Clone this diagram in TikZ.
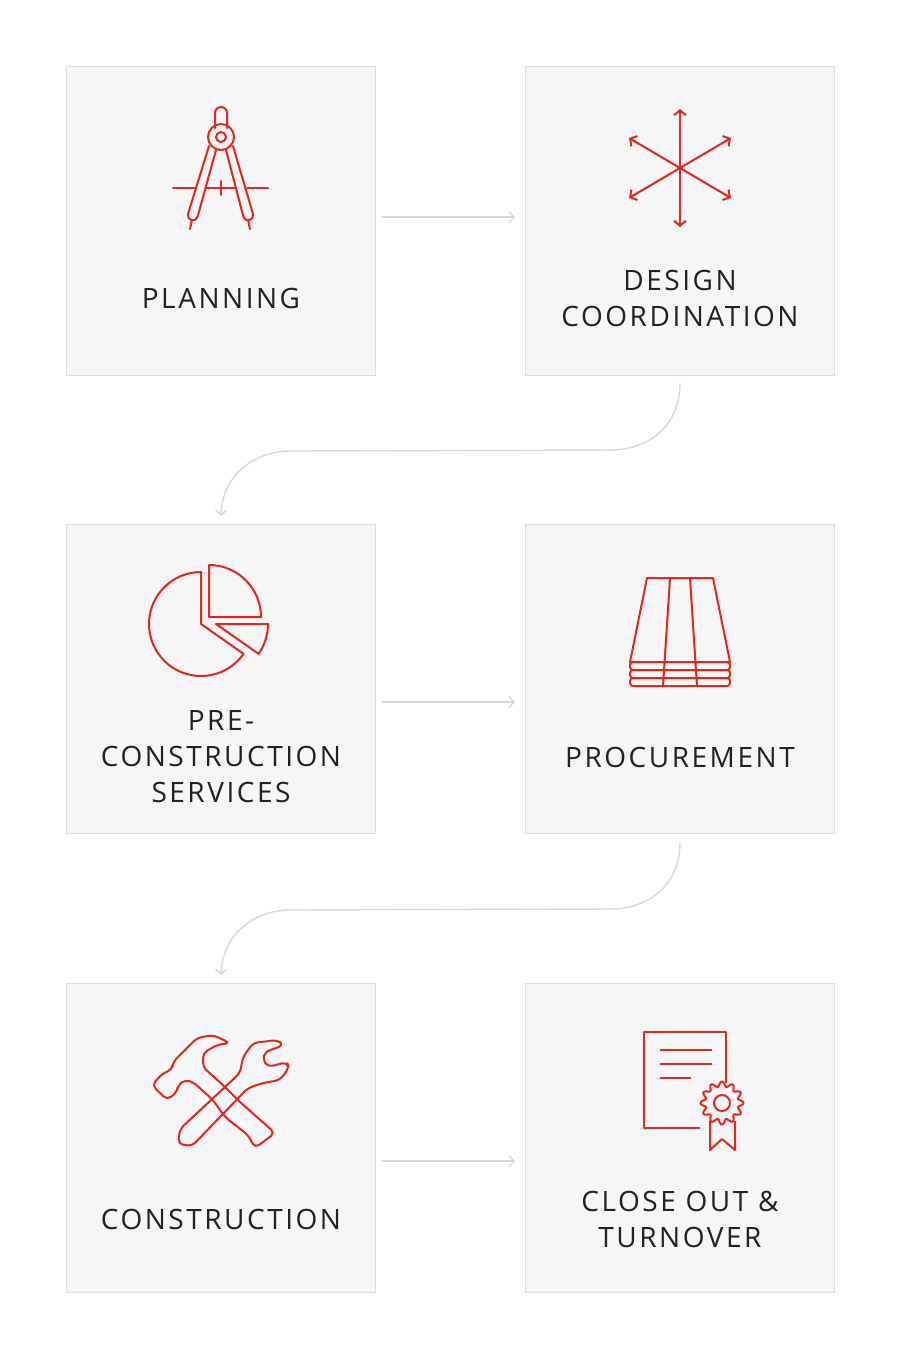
\documentclass[tikz,border=0pt]{standalone}
\usepackage{fontspec}
\setmainfont[LetterSpace=9]{Open Sans}
\usetikzlibrary{arrows.meta}
\definecolor{boxfill}{HTML}{F6F6F6}
\definecolor{boxline}{HTML}{DCDCDC}
\definecolor{conn}{HTML}{D8D8D8}
\definecolor{ired}{HTML}{E3261E}
\definecolor{txt}{HTML}{222222}
\begin{document}
\begin{tikzpicture}[x=1pt,y=-1pt,
  stage/.style={draw=boxline,fill=boxfill,line width=1pt,minimum width=309pt,minimum height=309pt,inner sep=0pt},
  lbl/.style={text=txt,font=\fontsize{28}{36}\selectfont,align=center,inner sep=0pt},
  conn/.style={draw=conn,line width=1.4pt,-{Straight Barb[length=5pt,width=11pt,line width=1.4pt]}},
  icon/.style={draw=ired,line width=2pt,line cap=round,line join=round},
  spike/.style={icon,-{Straight Barb[length=5pt,width=12pt,line width=2pt]}}]
\useasboundingbox (0,0) rectangle (901,1350);
\fill[white] (0,0) rectangle (901,1350);
\node[stage] (b1) at (220.5,220.5) {};
\node[stage] (b2) at (679.5,220.5) {};
\node[stage] (b3) at (220.5,679) {};
\node[stage] (b4) at (679.5,679) {};
\node[stage] (b5) at (220.5,1138) {};
\node[stage] (b6) at (679.5,1138) {};
\node[lbl] (t1) at (221,298) {PLANNING};
\node[lbl] (t2) at (680,298) {DESIGN\\COORDINATION};
\node[lbl] (t3) at (221,757) {PRE-\\CONSTRUCTION\\SERVICES};
\node[lbl] (t4) at (680,757) {PROCUREMENT};
\node[lbl] (t5) at (221,1219) {CONSTRUCTION};
\node[lbl] (t6) at (680,1219) {CLOSE OUT \&\\TURNOVER};
% connectors
\coordinate (c1s) at (382,217); \coordinate (c1e) at (515,217);
\draw[conn] (c1s) -- (c1e);
\coordinate (c3s) at (382,702); \coordinate (c3e) at (515,702);
\draw[conn] (c3s) -- (c3e);
\coordinate (c5s) at (382,1161); \coordinate (c5e) at (515,1161);
\draw[conn] (c5s) -- (c5e);
\coordinate (c2s) at (680,383); \coordinate (c2e) at (221,516);
\draw[conn] (c2s) .. controls (680,425) and (650,450) .. (610,450) -- (290,451) .. controls (255,451) and (222,475) .. (c2e);
\coordinate (c4s) at (680,842); \coordinate (c4e) at (221,975);
\draw[conn] (c4s) .. controls (680,884) and (650,909) .. (610,909) -- (290,910) .. controls (255,910) and (222,934) .. (c4e);
% compass
\begin{scope}[icon]
\draw[rounded corners=6] (215,128) -- (215,107) -- (227,107) -- (227,128);
\draw (221,137) circle (13); \draw (221,137) circle (5);
\draw (209,146) -- (188,214) arc[start angle=196,end angle=16,radius=5] -- (216,150);
\draw (233,146) -- (253,214) arc[start angle=-16,end angle=164,radius=5] -- (226,150);
\draw (192,220) -- (190,229); \draw (248,220) -- (250,229);
\draw (173,188) -- (195,188); \draw (206,188) -- (236,188); \draw (247,188) -- (268,188);
\draw (221,181) -- (221,195);
\end{scope}
% design coordination
\coordinate (dc) at (680,168);
\foreach \p in {(680,109),(680,227),(629,138),(731,138),(629,198),(731,198)} \draw[spike] (dc) -- \p;
% pie
\begin{scope}[icon]
\draw (201,572) arc[start angle=-90,end angle=-325,radius=52] -- (201,624) -- cycle;
\draw (209,565) -- (209,617) -- (261,617) arc[start angle=0,end angle=-90,radius=52];
\draw (216,624) -- (268,624) arc[start angle=0,end angle=35,radius=52] -- cycle;
\end{scope}
% procurement
\begin{scope}[icon]
\draw (647,578) -- (713,578) -- (730,662) -- (630,662) -- cycle;
\draw (670,578) -- (663,686); \draw (690,578) -- (697,686);
\draw[rounded corners=3] (630,662) rectangle (730,670);
\draw[rounded corners=3] (630,670) rectangle (730,678);
\draw[rounded corners=3] (630,678) rectangle (730,686);
\end{scope}
% tools
\begin{scope}[icon,rounded corners=5]
% hammer
\draw (255,1148) -- (275,1133) -- (240,1102) -- (225,1087) -- (203,1067) -- (203,1053) -- (217,1045) -- (230,1043) -- (213,1035) -- (197,1038) -- (173,1062) -- (172,1070) -- (163,1073) -- (152,1085) -- (167,1100) -- (177,1092) -- (178,1085) -- (185,1080) -- (193,1082) -- (213,1100) -- (225,1117) -- (248,1135) -- cycle;
% wrench
\draw (180,1129) -- (240,1073) -- (243,1057) -- (253,1043) -- (277,1040) -- (284,1045) -- (265,1052) -- (263,1060) -- (268,1067) -- (287,1062) -- (289,1068) -- (280,1080) -- (263,1083) -- (248,1088) -- (192,1146) -- (178,1144) -- cycle;
\end{scope}
% certificate
\begin{scope}[icon,line cap=butt]
\draw (700,1128) -- (644,1128) -- (644,1032) -- (726,1032) -- (726,1083);
\draw (660,1050) -- (712,1050); \draw (660,1064) -- (712,1064); \draw (660,1078) -- (691,1078);
\draw plot[domain=0:360,samples=145,smooth cycle] ({722+(19+2.5*cos(12*\x))*cos(\x)},{1103+(19+2.5*cos(12*\x))*sin(\x)});
\draw (722,1103) circle (8);
\draw (710,1121) -- (710,1150) -- (722,1139) -- (735,1150) -- (735,1121);
\end{scope}
\end{tikzpicture}
\end{document}
